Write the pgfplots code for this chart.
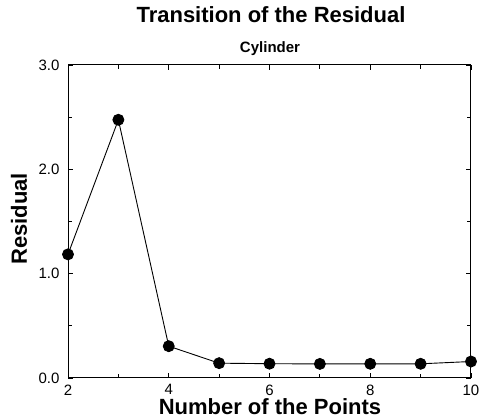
\documentclass[border=0pt]{standalone}
\usepackage{fontspec}
\setmainfont{Liberation Sans}
\usepackage{pgfplots}
\pgfplotsset{compat=1.18}
\begin{document}
\begin{tikzpicture}[x=1pt,y=1pt]
\begin{axis}[
  at={(0,0)}, anchor=south west,
  scale only axis, width=403pt, height=313pt,
  xmin=2, xmax=10, ymin=0, ymax=3,
  xtick={2,4,6,8,10}, minor xtick={3,5,7,9},
  ytick={0,1,2,3}, minor ytick={0.5,1.5,2.5},
  tick align=inside,
  major tick length=5pt, minor tick length=4pt,
  tick style={black, line width=0.8pt},
  axis line style={black, line width=1pt},
  xticklabel pos=left, yticklabel pos=left,
  /pgf/number format/assume math mode=true,
  yticklabel style={/pgf/number format/fixed, /pgf/number format/fixed zerofill, /pgf/number format/precision=1, font=\fontsize{15}{17}\selectfont, xshift=-5pt},
  xticklabel style={font=\fontsize{15}{17}\selectfont, yshift=-3pt},
  clip=false,
]
\addplot[black, line width=0.9pt, mark=*, mark size=5.5pt, mark options={fill=black}]
coordinates {(2,1.185) (3,2.475) (4,0.305) (5,0.142) (6,0.137) (7,0.135) (8,0.136) (9,0.136) (10,0.158)};
\end{axis}
\node[anchor=base, font=\bfseries\fontsize{22}{26}\selectfont] at (203,355) {Transition of the Residual};
\node[anchor=base, font=\bfseries\fontsize{15}{17}\selectfont] at (202,325) {Cylinder};
\node[anchor=base, font=\bfseries\fontsize{22}{26}\selectfont] at (202,-37) {Number of the Points};
\node[anchor=base, rotate=90, font=\bfseries\fontsize{22}{26}\selectfont] at (-41,159) {Residual};
\pgfresetboundingbox
\path (-68,-42) rectangle (411,378);
\end{tikzpicture}
\end{document}
